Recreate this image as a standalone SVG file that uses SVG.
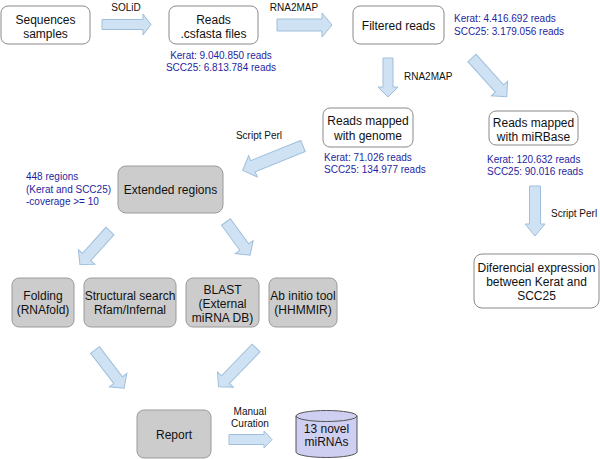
<svg xmlns="http://www.w3.org/2000/svg" width="600" height="459" viewBox="0 0 600 459">
<style>
text{font-family:"Liberation Sans",Arial,sans-serif;}
.n{fill:#fff;stroke:#8a8a8a;stroke-width:1;}
.g{fill:#cccccc;stroke:#9a9a9a;stroke-width:1;}
.t{font-size:12px;fill:#111;text-anchor:middle;}
.b{font-size:10px;fill:#1f1f9f;}
.l{font-size:10px;fill:#111;}
.arr{fill:#cfe2f3;stroke:#9fbfdc;stroke-width:1;stroke-linejoin:miter;}
</style>
<rect width="600" height="459" fill="#fff"/>
<g id="connectors">
<polygon class="arr" transform="translate(102,24.5)" points="0,-5 41,-5 41,-10.5 49,0 41,10.5 41,5 0,5"/>
<polygon class="arr" transform="translate(277,25)" points="0,-6 45,-6 45,-12 55,0 45,12 45,6 0,6"/>
<polygon class="arr" transform="translate(388,58) rotate(90)" points="0,-5 29,-5 29,-10 39,0 29,10 29,5 0,5"/>
<polygon class="arr" transform="translate(472,58) rotate(48)" points="0,-5.5 41,-5.5 41,-11 52,0 41,11 41,5.5 0,5.5"/>
<polygon class="arr" transform="translate(303,146) rotate(158)" points="0,-6 54,-6 54,-11.5 65,0 54,11.5 54,6 0,6"/>
<polygon class="arr" transform="translate(110,231) rotate(132)" points="0,-5.5 35,-5.5 35,-11 45,0 35,11 35,5.5 0,5.5"/>
<polygon class="arr" transform="translate(226,222) rotate(54)" points="0,-5.5 31,-5.5 31,-11 41,0 31,11 31,5.5 0,5.5"/>
<polygon class="arr" transform="translate(95,350) rotate(52.6)" points="0,-5.5 38,-5.5 38,-11 48,0 38,11 38,5.5 0,5.5"/>
<polygon class="arr" transform="translate(256,348) rotate(134)" points="0,-5.5 44,-5.5 44,-11 54,0 44,11 44,5.5 0,5.5"/>
<polygon class="arr" transform="translate(229,439.5)" points="0,-5 35,-5 35,-8.5 43,0 35,8.5 35,5 0,5"/>
<polygon class="arr" transform="translate(535,186) rotate(90)" points="0,-5.5 38,-5.5 38,-10 50,0 38,10 38,5.5 0,5.5"/>
<text class="l" x="126" y="11" text-anchor="middle">SOLiD</text>
<text class="l" x="294" y="11" text-anchor="middle">RNA2MAP</text>
<text class="l" x="404" y="80">RNA2MAP</text>
<text class="l" x="259" y="139" text-anchor="middle">Script Perl</text>
<text class="l" x="551" y="217">Script Perl</text>
<text class="l" x="250" y="415" text-anchor="middle">Manual</text>
<text class="l" x="250" y="427" text-anchor="middle">Curation</text>
</g>
<g id="sequences">
<rect class="n" x="1" y="6" width="89" height="38" rx="7"/>
<text class="t" x="45.5" y="24">Sequences</text>
<text class="t" x="45.5" y="38">samples</text>
</g>
<g id="reads">
<rect class="n" x="169" y="6" width="89" height="38" rx="7"/>
<text class="t" x="213.5" y="24">Reads</text>
<text class="t" x="213.5" y="38">.csfasta files</text>
<text class="b" x="221" y="59" text-anchor="middle">Kerat: 9.040.850 reads</text>
<text class="b" x="221" y="71" text-anchor="middle">SCC25: 6.813.784 reads</text>
</g>
<g id="filtered">
<rect class="n" x="353" y="6" width="91" height="38" rx="7"/>
<text class="t" x="398.5" y="30">Filtered reads</text>
<text class="b" x="454" y="22">Kerat: 4.416.692 reads</text>
<text class="b" x="454" y="35">SCC25: 3.179.056 reads</text>
</g>
<g id="genome">
<rect class="n" x="323" y="108" width="90" height="39" rx="7"/>
<text class="t" x="368" y="125">Reads mapped</text>
<text class="t" x="368" y="140">with genome</text>
<text class="b" x="324" y="161">Kerat: 71.026 reads</text>
<text class="b" x="324" y="173">SCC25: 134.977 reads</text>
</g>
<g id="mirbase">
<rect class="n" x="489" y="111" width="89" height="34" rx="7"/>
<text class="t" x="533.5" y="127">Reads mapped</text>
<text class="t" x="533.5" y="141">with miRBase</text>
<text class="b" x="487" y="163">Kerat: 120.632 reads</text>
<text class="b" x="487" y="175">SCC25: 90.016 reads</text>
</g>
<g id="extended">
<rect class="g" x="118" y="166" width="105" height="47" rx="8"/>
<text class="t" x="170.5" y="194">Extended regions</text>
<text class="b" x="26" y="180">448 regions</text>
<text class="b" x="26" y="193">(Kerat and SCC25)</text>
<text class="b" x="26" y="205">-coverage &gt;= 10</text>
</g>
<g id="folding">
<rect class="g" x="12" y="278" width="62" height="49" rx="7"/>
<text class="t" x="43" y="300">Folding</text>
<text class="t" x="43" y="314">(RNAfold)</text>
</g>
<g id="structural">
<rect class="g" x="84" y="278" width="92" height="49" rx="7"/>
<text class="t" x="130" y="300">Structural search</text>
<text class="t" x="130" y="314">Rfam/Infernal</text>
</g>
<g id="blast">
<rect class="g" x="186" y="278" width="73" height="49" rx="7"/>
<text class="t" x="222.5" y="294">BLAST</text>
<text class="t" x="222.5" y="308">(External</text>
<text class="t" x="222.5" y="322">miRNA DB)</text>
</g>
<g id="abinitio">
<rect class="g" x="269" y="278" width="68" height="49" rx="7"/>
<text class="t" x="303" y="300">Ab initio tool</text>
<text class="t" x="303" y="314">(HHMMIR)</text>
</g>
<g id="differential">
<rect class="n" x="474" y="254" width="125" height="54" rx="8"/>
<text class="t" x="536.5" y="272">Diferencial expression</text>
<text class="t" x="536.5" y="286">between Kerat and</text>
<text class="t" x="536.5" y="300">SCC25</text>
</g>
<g id="report">
<rect class="g" x="137" y="410" width="74" height="48" rx="7"/>
<text class="t" x="174" y="439">Report</text>
</g>
<g id="novel">
<path d="M296,416 L296,452 A30.5,5.5 0 0 0 357,452 L357,416 A30.5,5.5 0 0 0 296,416 Z" fill="#cfcff2" stroke="#555" stroke-width="1"/>
<path d="M296,416 A30.5,5.5 0 0 0 357,416" fill="none" stroke="#555" stroke-width="1"/>
<text class="t" x="326.5" y="433">13 novel</text>
<text class="t" x="326.5" y="446">miRNAs</text>
</g>
</svg>
